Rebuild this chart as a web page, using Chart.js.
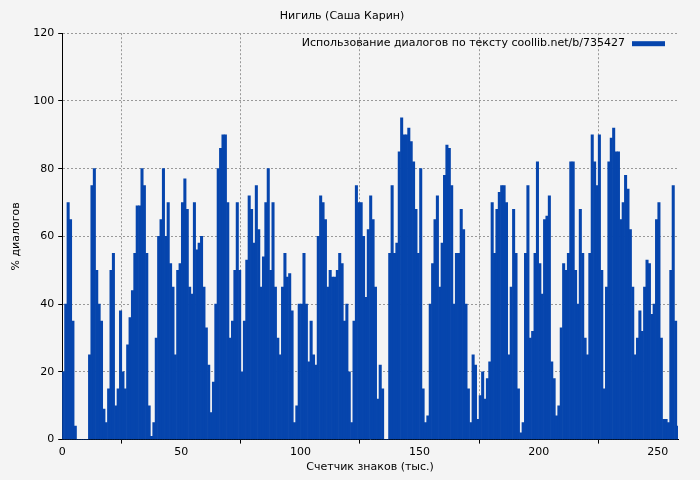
<!DOCTYPE html>
<html><head><meta charset="utf-8">
<script src="https://cdn.jsdelivr.net/npm/chart.js@4"></script>
<style>html,body{margin:0;background:#f4f4f4}#w{width:700px;height:480px}</style>
</head><body><div id="w"><canvas id="c"></canvas></div>
<script>
const chartTitle = "Нигиль (Саша Карин)";
const seriesLabel = "Использование диалогов по тексту coollib.net/b/735427";
const xTitle = "Счетчик знаков (тыс.)";
const yTitle = "% диалогов";
const xTicks = [0,50,100,150,200,250];
const yTicks = [0,20,40,60,80,100,120];
// position (thousand chars) 0..258, step 1
const dialogPct = [
20,40,70,65,35,4,0,0,0,0,0,25,75,80,50,40,35,9,5,15,
50,55,10,15,38,20,15,28,36,44,55,69,69,80,75,55,10,1,5,30,
60,65,80,60,70,52,45,25,50,52,70,77,68,45,43,70,56,58,60,45,
33,22,8,17,40,80,86,90,90,70,30,35,50,70,50,20,35,53,72,68,
58,75,62,45,54,70,80,50,70,45,30,25,45,55,48,49,38,5,10,40,
40,55,40,23,35,25,22,60,72,70,65,45,50,48,48,50,55,52,35,40,
20,5,35,75,70,70,60,42,62,72,65,45,12,22,15,0,0,55,75,55,
58,85,95,90,90,92,88,82,68,55,80,15,5,7,40,52,65,72,45,58,
78,87,86,75,40,55,55,68,62,40,15,5,25,22,6,13,20,12,18,23,
70,55,68,73,75,75,70,25,45,68,55,15,2,5,55,75,30,32,55,82,
52,43,65,66,72,23,18,7,10,33,52,50,55,82,82,50,40,68,55,30,
25,55,90,82,75,90,50,15,45,82,89,92,85,85,65,70,78,74,62,45,
25,30,38,32,45,53,52,37,40,65,70,30,6,6,5,50,75,35,4
];
const xs = dialogPct.map((v,i)=>({x:i+0.5,y:v}));
const font = {family:"DejaVu Sans",size:11};
const legendInside = {
  id:'legendInside',
  afterDraw(ch){
    const c=ch.ctx,a=ch.chartArea;
    c.save();c.font="11px DejaVu Sans";c.fillStyle="#000";c.textBaseline="middle";c.textAlign="right";
    c.fillText(seriesLabel,a.right-53,a.top+10);
    c.fillStyle="#0645ad";c.fillRect(a.right-46,a.top+8,33,5);
    c.restore();
  }
};
const bg={id:'bg',beforeDraw(ch){const c=ch.ctx;c.save();c.fillStyle="#f4f4f4";c.fillRect(0,0,ch.width,ch.height);c.restore();}};
new Chart(document.getElementById('c'),{
  type:'bar',
  data:{datasets:[{label:seriesLabel,data:xs,backgroundColor:'#0645ad',borderWidth:0,barPercentage:1,categoryPercentage:1,grouped:false}]},
  options:{
    responsive:true,maintainAspectRatio:false,animation:false,
    layout:{padding:{left:6,right:22,top:0,bottom:2}},
    plugins:{legend:{display:false},tooltip:{enabled:false},
      title:{display:true,text:chartTitle,color:'#000',font:{family:"DejaVu Sans",size:11,weight:'normal'},padding:{top:10,bottom:10}}},
    scales:{
      x:{type:'linear',min:0,max:258.5,offset:false,
        afterBuildTicks(s){s.ticks=xTicks.map(v=>({value:v}));},
        ticks:{color:'#000',font,maxRotation:0,padding:2},
        grid:{color:'#999',tickColor:'#000',tickLength:4,drawOnChartArea:true},
        border:{color:'#000',dash:[2,2]},
        title:{display:true,text:xTitle,color:'#000',font,padding:{top:0}}},
      y:{min:0,max:120,
        afterBuildTicks(s){s.ticks=yTicks.map(v=>({value:v}));},
        ticks:{color:'#000',font,padding:4},
        grid:{color:'#999',tickColor:'#000',tickLength:4},
        border:{color:'#000',dash:[2,2]},
        title:{display:true,text:yTitle,color:'#000',font,padding:{bottom:6}}}
    }
  },
  plugins:[bg,legendInside]
});
</script></body></html>
